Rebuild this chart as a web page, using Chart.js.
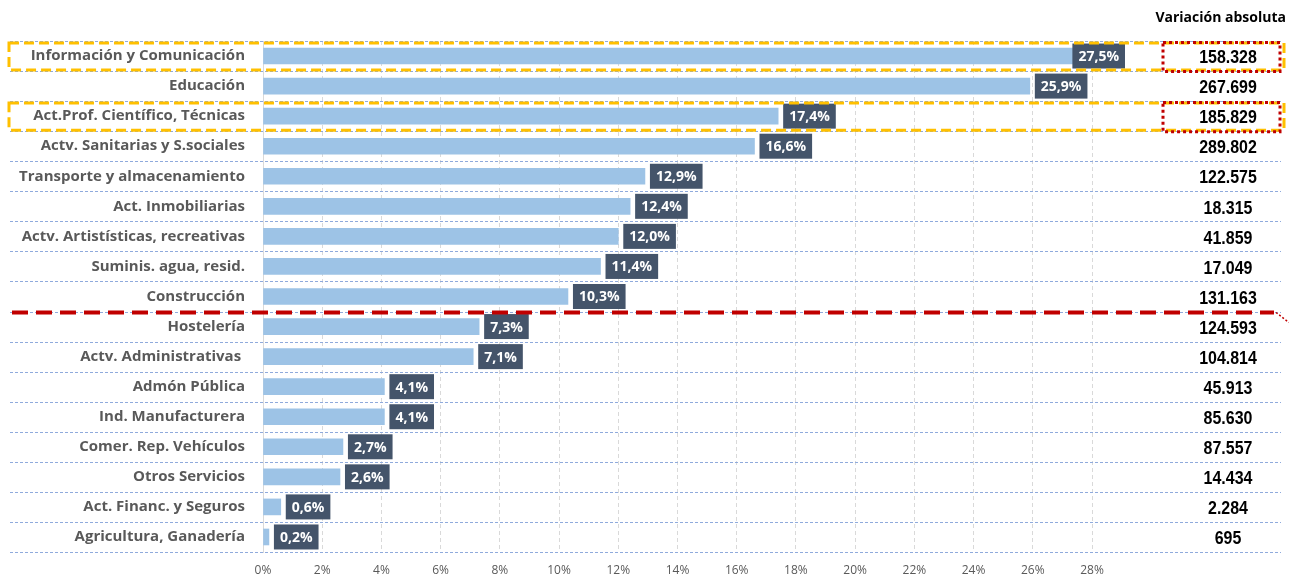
<!DOCTYPE html>
<html>
<head>
<meta charset="utf-8">
<script src="https://cdn.jsdelivr.net/npm/chart.js@4.4.1/dist/chart.umd.min.js"></script>
<style>
  html, body { margin: 0; padding: 0; background: #fff; }
  canvas { display: block; }
</style>
</head>
<body>
<canvas id="chart" width="1289" height="580"></canvas>
<script>
// Sectores, crecimiento relativo (%) y variación absoluta
const sectores = [
    'Información y Comunicación',
    'Educación',
    'Act.Prof. Científico, Técnicas',
    'Actv. Sanitarias y S.sociales',
    'Transporte y almacenamiento',
    'Act. Inmobiliarias',
    'Actv. Artistísticas, recreativas',
    'Suminis. agua, resid.',
    'Construcción',
    'Hostelería',
    'Actv. Administrativas ',
    'Admón Pública',
    'Ind. Manufacturera',
    'Comer. Rep. Vehículos',
    'Otros Servicios',
    'Act. Financ. y Seguros',
    'Agricultura, Ganadería'
];
const variacionPct = [27.5, 25.9, 17.4, 16.6, 12.9, 12.4, 12.0, 11.4, 10.3, 7.3, 7.1, 4.1, 4.1, 2.7, 2.6, 0.6, 0.2];
const variacionAbs = ['158.328', '267.699', '185.829', '289.802', '122.575', '18.315', '41.859', '17.049',
    '131.163', '124.593', '104.814', '45.913', '85.630', '87.557', '14.434', '2.284', '695'];
const tituloColumna = 'Variación absoluta';
const filasDestacadas = [0, 2];
const ultimaFilaSobreLinea = 8;
const ejeMax = 28;
const ejePaso = 2;

const FONT = '"Open Sans", Lato, sans-serif';

function rowBounds(scale, i) {
    const y = scale.getPixelForValue(i);
    const half = (scale.getPixelForValue(1) - scale.getPixelForValue(0)) / 2;
    return { top: y - half, bottom: y + half, mid: y };
}

// blue dotted row separators, drawn under the bars
const rowLinesPlugin = {
    id: 'rowLines',
    beforeDatasetsDraw(chart) {
        const ctx = chart.ctx;
        const y = chart.scales.y;
        ctx.save();
        ctx.strokeStyle = '#8FAADC';
        ctx.lineWidth = 1;
        ctx.setLineDash([3, 2]);
        for (let i = 0; i <= sectores.length; i++) {
            const b = i < sectores.length ? rowBounds(y, i).top : rowBounds(y, i - 1).bottom;
            const py = Math.round(b) + 0.5;
            ctx.beginPath();
            ctx.moveTo(10, py);
            ctx.lineTo(chart.width - 8, py);
            ctx.stroke();
        }
        ctx.restore();
    }
};

// value boxes, right column, highlight frames
const annotationsPlugin = {
    id: 'annotations',
    afterDatasetsDraw(chart) {
        const ctx = chart.ctx;
        const y = chart.scales.y;
        const area = chart.chartArea;
        const meta = chart.getDatasetMeta(0);
        ctx.save();

        // dark value boxes at bar ends
        ctx.font = 'bold 14px ' + FONT;
        ctx.textBaseline = 'middle';
        ctx.textAlign = 'center';
        meta.data.forEach((bar, i) => {
            const txt = variacionPct[i].toFixed(1).replace('.', ',') + '%';
            const w = ctx.measureText(txt).width + 12;
            const h = 25;
            let x0 = bar.x + 5;
            if (x0 + w > area.right + 33) x0 = area.right + 33 - w;
            ctx.fillStyle = '#44546A';
            ctx.fillRect(x0, bar.y - h / 2, w, h);
            ctx.fillStyle = '#ffffff';
            ctx.fillText(txt, x0 + w / 2, bar.y + 1);
        });

        // right column title + values
        const colX = 1228;
        ctx.fillStyle = '#000000';
        ctx.font = 'bold 14px ' + FONT;
        ctx.textAlign = 'right';
        ctx.fillText(tituloColumna, chart.width - 3, 18);
        ctx.font = 'bold 19px "Liberation Sans", Arial, sans-serif';
        ctx.textAlign = 'center';
        variacionAbs.forEach((v, i) => {
            ctx.save();
            ctx.translate(colX, y.getPixelForValue(i) + 2);
            ctx.scale(0.84, 1);   // narrow look of the original font
            ctx.fillText(v, 0, 0);
            ctx.restore();
        });

        // orange dashed frames around highlighted rows
        filasDestacadas.forEach(i => {
            const b = rowBounds(y, i);
            ctx.strokeStyle = '#FFC000';
            ctx.lineWidth = 3;
            ctx.setLineDash([10, 5]);
            ctx.strokeRect(9, b.top + 2, chart.width - 14, b.bottom - b.top - 3);
            // red dotted box round the value
            ctx.strokeStyle = '#C00000';
            ctx.lineWidth = 3;
            ctx.setLineDash([3, 3]);
            ctx.strokeRect(1163, b.top + 1.5, 117, b.bottom - b.top - 1);
        });

        // red dashed split line
        const sy = rowBounds(y, ultimaFilaSobreLinea).bottom + 1;
        ctx.strokeStyle = '#C00000';
        ctx.lineWidth = 4;
        ctx.setLineDash([16, 8]);
        ctx.beginPath();
        ctx.moveTo(12, sy);
        ctx.lineTo(1274, sy);
        ctx.stroke();
        ctx.lineWidth = 1.5;
        ctx.setLineDash([2, 2]);
        ctx.beginPath();
        ctx.moveTo(1276, sy);
        ctx.lineTo(1289, sy + 10);
        ctx.stroke();

        ctx.restore();
    }
};

const ctx = document.getElementById('chart').getContext('2d');
new Chart(ctx, {
    type: 'bar',
    data: {
        labels: sectores,
        datasets: [{
            data: variacionPct,
            backgroundColor: '#9DC3E6',
            borderWidth: 0,
            barThickness: 16
        }]
    },
    options: {
        indexAxis: 'y',
        responsive: false,
        animation: false,
        layout: {
            padding: { left: 0, right: 197, top: 41, bottom: 0 }
        },
        plugins: {
            legend: { display: false },
            tooltip: { enabled: false }
        },
        scales: {
            x: {
                min: 0,
                max: ejeMax,
                afterFit(scale) { scale.height = 28; },
                ticks: {
                    stepSize: ejePaso,
                    padding: 11,
                    color: '#595959',
                    font: { family: FONT, size: 12 },
                    callback: v => v + '%'
                },
                grid: {
                    color: '#D9D9D9',
                    drawTicks: false
                },
                border: { display: false, dash: [4, 3] }
            },
            y: {
                afterFit(scale) { scale.width = 263; },
                ticks: {
                    padding: 18,
                    color: '#595959',
                    font: { family: FONT, size: 15, weight: 'bold' }
                },
                grid: { display: false, drawTicks: false },
                border: { display: true, color: '#D9D9D9', width: 1 }
            }
        }
    },
    plugins: [rowLinesPlugin, annotationsPlugin]
});
</script>
</body>
</html>
